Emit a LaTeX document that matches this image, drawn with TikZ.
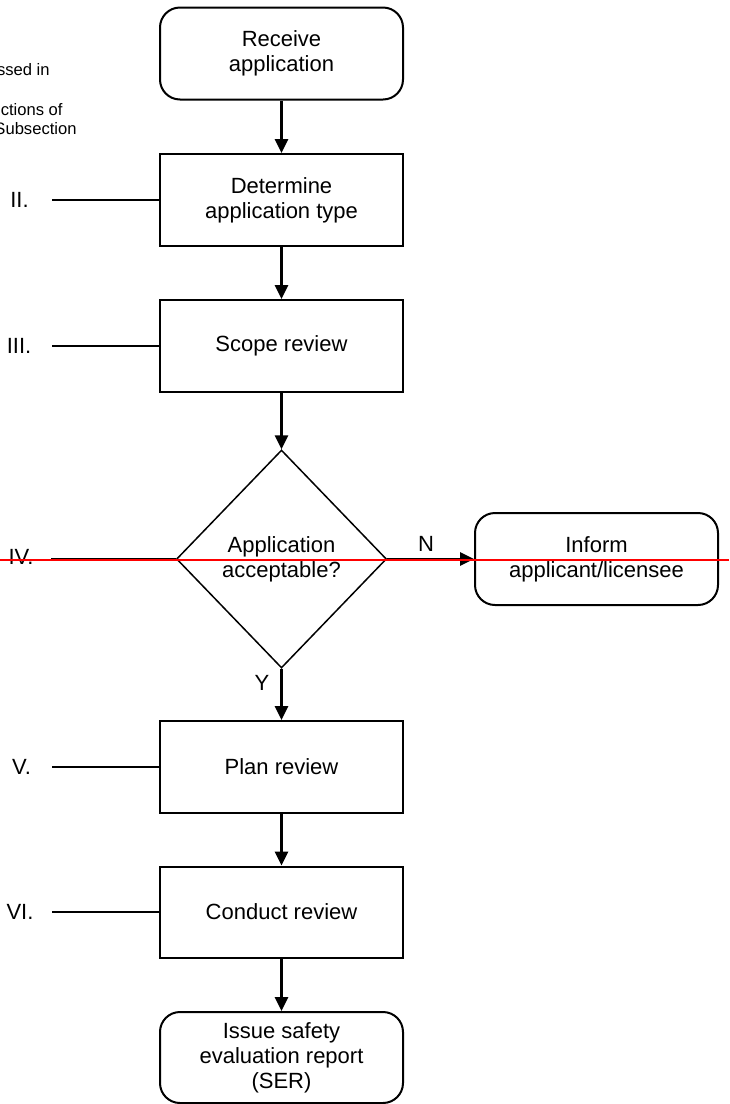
\documentclass[tikz,border=0pt]{standalone}
\usepackage{fontspec}
\setmainfont{Liberation Sans}
\usetikzlibrary{shapes.geometric,arrows.meta}
\definecolor{redline}{RGB}{255,0,0}
\begin{document}
\begin{tikzpicture}[x=0.5pt,y=-0.5pt,
  txt/.style={font=\fontsize{11}{12.5}\selectfont},
  box/.style={txt, draw, line width=1pt, minimum width=121.5pt, minimum height=46pt, inner sep=0pt, align=center},
  rbox/.style={box, rounded corners=10pt},
  dec/.style={txt, draw, diamond, line width=0.75pt, minimum width=105pt, minimum height=109pt, inner sep=0pt, align=center},
  flow/.style={line width=1.4pt, -{Triangle[length=7pt,width=6.5pt]}},
  tick/.style={line width=0.9pt},
  lbl/.style={txt, inner sep=0pt},
  note/.style={font=\fontsize{8.3}{9.5}\selectfont, inner sep=0pt, anchor=base east}
]
\useasboundingbox (0,0) rectangle (729,1104);

% partial notes at top left
\node[note] (n1) at (50,75) {ssed in};
\node[note] (n2) at (63,115) {ctions of};
\node[note] (n3) at (77,134) {Subsection};

% flow nodes
\node[rbox] (recv) at (281.5,53.5) {Receive\\application};
\node[box] (det) at (281.5,200) {Determine\\application type};
\node[box] (scope) at (281.5,346) {Scope review};
\node[dec] (acc) at (281.5,559) {Application\\acceptable?};
\node[rbox] (inf) at (596.5,559) {Inform\\applicant/licensee};
\node[box] (plan) at (281.5,767) {Plan review};
\node[box, minimum height=45.5pt] (cond) at (281.5,912) {Conduct review};
\node[rbox, minimum height=45.5pt] (ser) at (281.5,1057.5) {Issue safety\\evaluation report\\(SER)};

% connectors
\draw[flow] (recv.south) -- (det.north);
\draw[flow] (det.south) -- (scope.north);
\draw[flow] (scope.south) -- (acc.north);
\draw[flow] (acc.east) -- (inf.west);
\draw[flow] (acc.south) -- (plan.north);
\draw[flow] (plan.south) -- (cond.north);
\draw[flow] (cond.south) -- (ser.north);

\node[lbl] (ny) at (426,544) {N};
\node[lbl] (yy) at (262,683) {Y};

% section labels
\node[lbl] (l2) at (19.5,200) {II.};
\node[lbl] (l3) at (19,346) {III.};
\node[lbl] (l4) at (21,557) {IV.};
\node[lbl] (l5) at (21.5,767) {V.};
\node[lbl] (l6) at (20,912) {VI.};

\coordinate (t2) at (52,200);
\coordinate (t3) at (52,346);
\coordinate (t4) at (51,559);
\coordinate (t5) at (52,767);
\coordinate (t6) at (52,912);
\draw[tick] (t2) -- (det.west);
\draw[tick] (t3) -- (scope.west);
\draw[tick] (t4) -- (acc.west);
\draw[tick] (t5) -- (plan.west);
\draw[tick] (t6) -- (cond.west);

% red line across
\coordinate (r1) at (0,560);
\coordinate (r2) at (729,560);
\draw[redline, line width=1pt] (r1) -- (r2);
\end{tikzpicture}
\end{document}
